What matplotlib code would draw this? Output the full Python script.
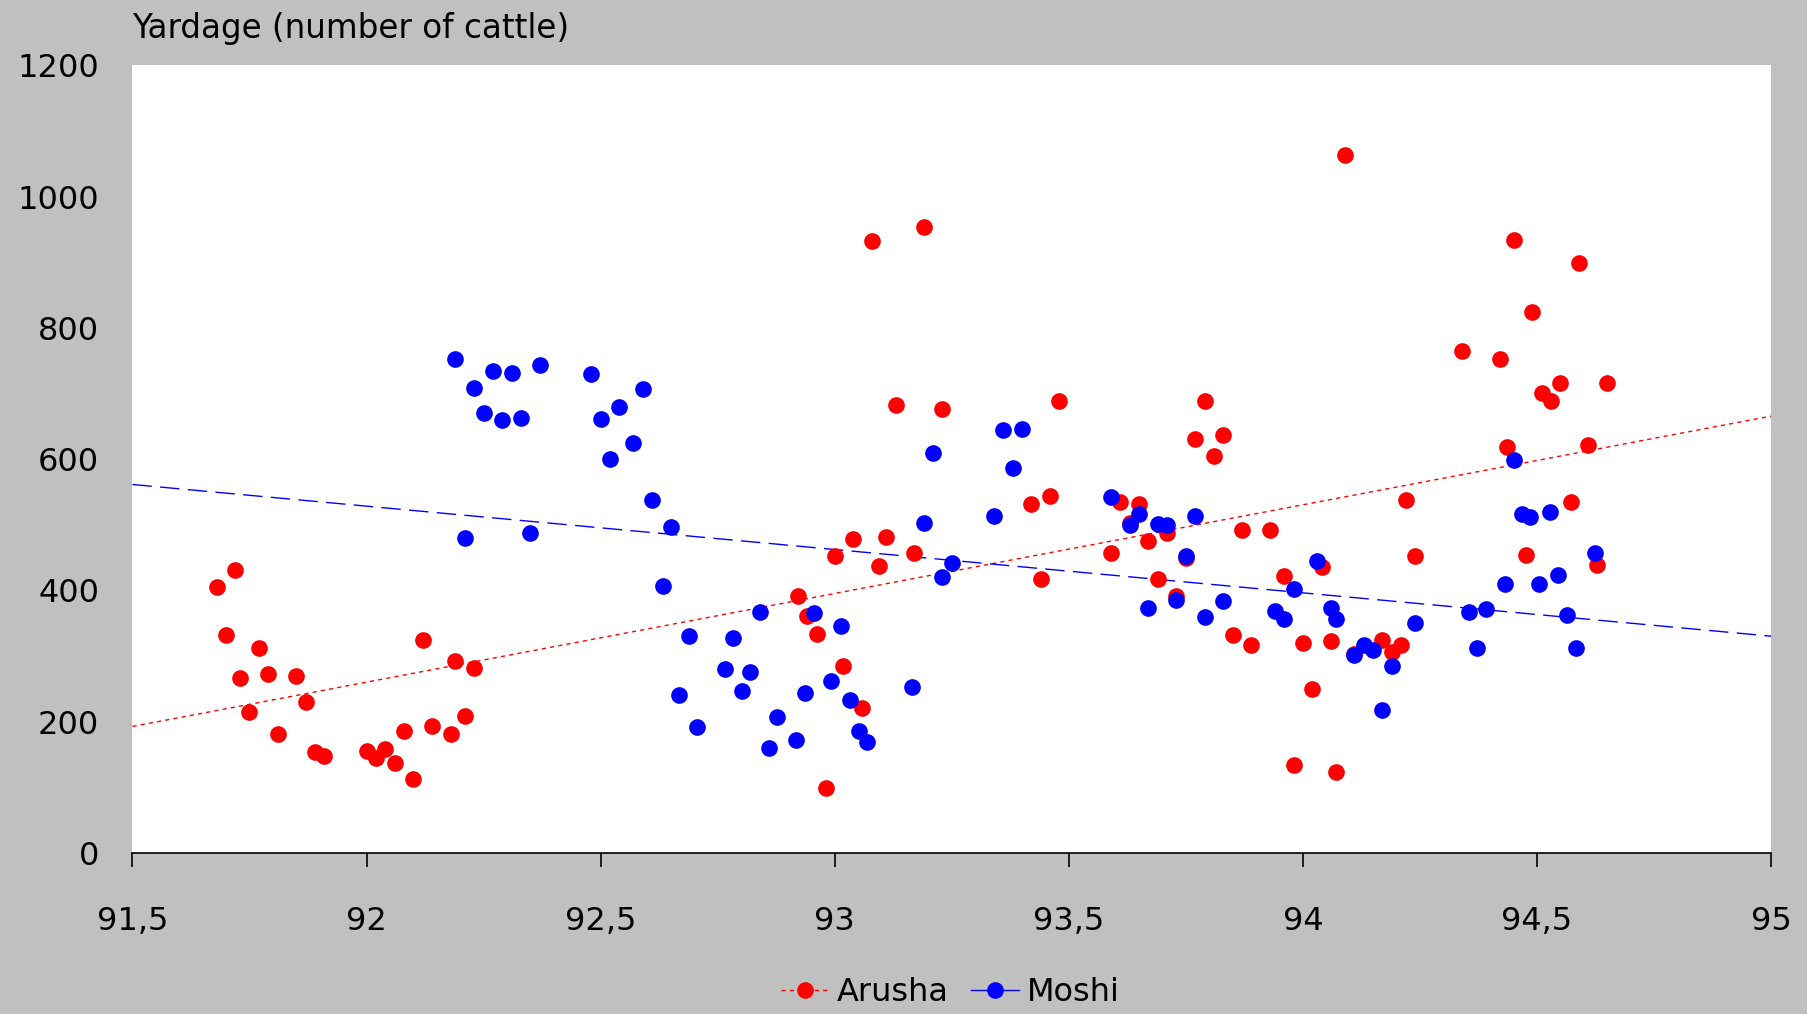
import numpy as np
import matplotlib
matplotlib.use("Agg")
import matplotlib.pyplot as plt
from matplotlib.lines import Line2D

plt.rcParams['font.family'] = ['DejaVu Sans']

# Arusha (red) - year / yardage
arusha_x = [91.68, 91.70, 91.72, 91.73, 91.75, 91.77, 91.79, 91.81, 91.85, 91.87, 91.89, 91.91,
            92.00, 92.02, 92.04, 92.06, 92.08, 92.10, 92.12, 92.14, 92.18, 92.19, 92.21, 92.23,
            92.922, 92.940, 92.963, 92.981, 93.00, 93.018, 93.04, 93.058, 93.08, 93.095, 93.11, 93.13,
            93.17, 93.19, 93.23, 93.42, 93.44, 93.46, 93.48, 93.59, 93.61, 93.63, 93.65, 93.67,
            93.69, 93.71, 93.73, 93.75, 93.77, 93.79, 93.81, 93.83, 93.85, 93.87, 93.89, 93.93,
            93.96, 93.98, 94.00, 94.02, 94.04, 94.06, 94.07, 94.09, 94.11, 94.17, 94.19, 94.21,
            94.22, 94.24, 94.34, 94.42, 94.436, 94.45, 94.476, 94.49, 94.51, 94.53, 94.55, 94.572,
            94.59, 94.608, 94.628, 94.65]
arusha_y = [405, 332, 431, 267, 214, 312, 272, 181, 270, 230, 153, 148,
            155, 144, 158, 137, 185, 112, 325, 193, 181, 293, 209, 281,
            391, 361, 333, 98, 452, 285, 478, 220, 932, 437, 481, 683,
            457, 953, 676, 531, 418, 543, 688, 457, 534, 502, 532, 475,
            418, 487, 392, 449, 631, 688, 605, 637, 332, 492, 316, 492,
            422, 134, 320, 249, 436, 323, 123, 1063, 303, 325, 306, 316,
            538, 453, 764, 753, 619, 934, 454, 824, 700, 688, 716, 535,
            899, 622, 438, 716]

# Moshi (blue)
moshi_x = [92.19, 92.21, 92.23, 92.25, 92.27, 92.29, 92.31, 92.33, 92.35, 92.37,
           92.48, 92.50, 92.52, 92.54, 92.57, 92.59, 92.61, 92.633, 92.65, 92.668,
           92.688, 92.705, 92.765, 92.783, 92.802, 92.819, 92.840, 92.860, 92.877, 92.918,
           92.937, 92.955, 92.992, 93.014, 93.033, 93.051, 93.070, 93.166, 93.19, 93.21,
           93.23, 93.25, 93.34, 93.36, 93.38, 93.40, 93.59, 93.63, 93.65, 93.67,
           93.69, 93.71, 93.73, 93.75, 93.77, 93.79, 93.83, 93.94, 93.96, 93.98,
           94.03, 94.06, 94.07, 94.11, 94.13, 94.15, 94.17, 94.19, 94.24, 94.355,
           94.373, 94.391, 94.432, 94.45, 94.469, 94.485, 94.505, 94.528, 94.546, 94.564,
           94.583, 94.624]
moshi_y = [752, 480, 708, 670, 734, 660, 731, 662, 487, 743,
           729, 661, 600, 679, 624, 707, 538, 407, 497, 241,
           330, 191, 280, 327, 246, 275, 367, 159, 207, 172,
           244, 365, 262, 346, 233, 186, 169, 252, 503, 610,
           420, 441, 513, 645, 587, 646, 542, 499, 516, 373,
           501, 499, 386, 453, 513, 360, 383, 369, 357, 402,
           445, 373, 357, 301, 316, 309, 218, 285, 350, 367,
           312, 372, 409, 598, 517, 512, 409, 520, 423, 362,
           312, 457]

xticks = [91.5, 92, 92.5, 93, 93.5, 94, 94.5, 95]
xtick_labels = ['91,5', '92', '92,5', '93', '93,5', '94', '94,5', '95']
yticks = [0, 200, 400, 600, 800, 1000, 1200]

fig = plt.figure(figsize=(18.07, 10.14), dpi=100, facecolor='#c0c0c0')
ax = fig.add_axes([0.0733, 0.159, 0.9068, 0.7765])
ax.set_facecolor('white')

ax.plot(arusha_x, arusha_y, 'o', color='#ff0000', ms=12, mec='none', zorder=3)
ax.plot(moshi_x, moshi_y, 'o', color='#0000ff', ms=12, mec='none', zorder=3)

# linear trend lines over the whole x range
xs = np.array([91.5, 95])
ra, rb = np.polyfit(arusha_x, arusha_y, 1)
ma, mb = np.polyfit(moshi_x, moshi_y, 1)
ax.plot(xs, ra * xs + rb, color='#ff0000', lw=1, ls=(0, (3, 3)), zorder=2)
ax.plot(xs, ma * xs + mb, color='#0000ff', lw=1, ls=(0, (14, 6)), zorder=2)

ax.set_xlim(91.5, 95)
ax.set_ylim(0, 1200)
ax.set_xticks(xticks)
ax.set_xticklabels(xtick_labels)
ax.set_yticks(yticks)

for s in ['top', 'right', 'left']:
    ax.spines[s].set_visible(False)
ax.spines['bottom'].set_color('black')
ax.spines['bottom'].set_linewidth(1.2)
ax.tick_params(axis='x', direction='out', length=10, width=1.2, pad=28, labelsize=23)
ax.tick_params(axis='y', length=0, pad=24, labelsize=23)

fig.text(0.0733, 0.972, 'Yardage (number of cattle)', fontsize=23.5, ha='left', va='center')

handles = [Line2D([], [], color='#ff0000', marker='o', ms=12, mec='none', lw=1, ls=(0, (3, 3))),
           Line2D([], [], color='#0000ff', marker='o', ms=12, mec='none', lw=1)]
fig.legend(handles, ['Arusha', 'Moshi'], loc='center', bbox_to_anchor=(0.526, 0.021),
           ncol=2, frameon=False, fontsize=23, handlelength=1.5, handletextpad=0.25,
           columnspacing=0.7)

fig.savefig('out.png', dpi=100, facecolor=fig.get_facecolor())
